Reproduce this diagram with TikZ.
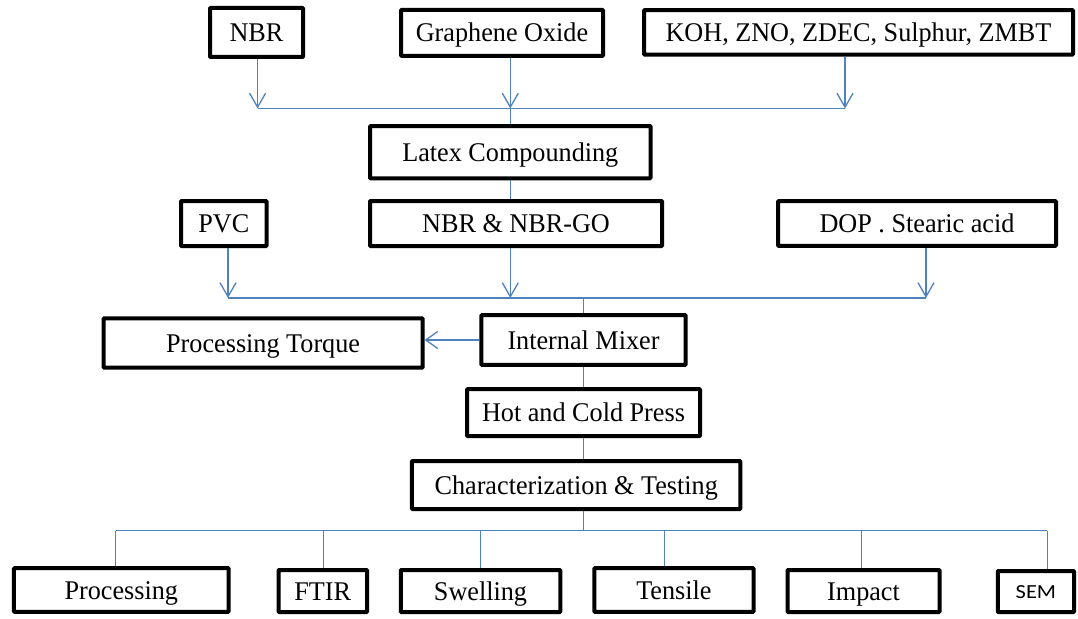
\documentclass[tikz,border=0pt]{standalone}
\usepackage{fontspec}
\setmainfont{Liberation Serif}[FakeStretch=0.97]
\newfontfamily\semfont{Carlito}[FakeStretch=1.12]
\usetikzlibrary{arrows.meta}
\definecolor{lnblue}{RGB}{79,129,189}
\tikzset{
  box/.style={draw=black, line width=4pt, inner sep=0pt, rounded corners=0.8pt,
    font=\fontsize{27}{30}\selectfont, anchor=center, text height=18pt, text depth=0pt},
  ln/.style={draw=lnblue, line width=1.3pt},
  arr/.style={ln, -{Straight Barb[length=14pt,width=16pt,line width=1.3pt]}},
}
\begin{document}
\begin{tikzpicture}[x=1pt,y=-1pt]
\useasboundingbox (0,0) rectangle (1078,618);
% top row
\node[box, minimum width=93, minimum height=49] (nbr) at (256.5,32.5) {NBR};
\node[box, minimum width=202, minimum height=46] (go) at (502,32.8) {Graphene Oxide};
\node[box, minimum width=429, minimum height=44.5] (koh) at (858.5,32.4) {KOH, ZNO, ZDEC, Sulphur, ZMBT};
% second
\node[box, minimum width=280.6, minimum height=52.3] (latex) at (510.3,152.2) {Latex Compounding};
% third row
\node[box, minimum width=85.6, minimum height=45] (pvc) at (223.8,223.5) {PVC};
\node[box, minimum width=292, minimum height=45] (nbrgo) at (516,223.5) {NBR \& NBR-GO};
\node[box, minimum width=278, minimum height=44.7] (dop) at (917,223.4) {DOP . Stearic acid};
% mixer row
\node[box, minimum width=204.3, minimum height=49.7] (mixer) at (583.5,340) {Internal Mixer};
\node[box, minimum width=319, minimum height=49.4] (torque) at (263.1,343) {Processing Torque};
\node[box, minimum width=233, minimum height=47] (press) at (583.5,412.7) {Hot and Cold Press};
\node[box, minimum width=328.5, minimum height=48] (char) at (576.2,485) {Characterization \& Testing};
% bottom row
\node[box, minimum width=214.7, minimum height=43.7] (proc) at (121.3,590) {Processing};
\node[box, minimum width=88.6, minimum height=42] (ftir) at (322.8,591) {FTIR};
\node[box, minimum width=159.5, minimum height=42] (swell) at (480.5,591) {Swelling};
\node[box, minimum width=159.3, minimum height=43.7] (tens) at (673.9,590) {Tensile};
\node[box, minimum width=152, minimum height=42] (imp) at (863.5,591) {Impact};
\node[box, minimum width=76.3, minimum height=41, font=\semfont\fontsize{20}{24}\selectfont, text height=13pt] (sem) at (1035.9,591.5) {SEM};
% bus coordinates
\coordinate (bus1) at (0,108.5);
\coordinate (bus2) at (0,298);
\coordinate (bus3) at (0,530.5);
% top arrows
\draw[arr] ([xshift=1.1]nbr.south) -- ([xshift=1.1]nbr.south |- bus1);
\draw[arr] (go.south -| latex) -- (bus1 -| latex);
\draw[arr] ([xshift=-13.5]koh.south) -- ([xshift=-13.5]koh.south |- bus1);
\draw[ln] ([xshift=1.1]nbr.south |- bus1) -- ([xshift=-13.5]koh.south |- bus1);
\draw[ln] (bus1 -| latex) -- (latex.north);
\draw[ln] (latex.south) -- (nbrgo.north -| latex);
% second group
\draw[arr] ([xshift=4.2]pvc.south) -- ([xshift=4.2]pvc.south |- bus2);
\draw[arr] (nbrgo.south -| latex) -- (bus2 -| latex);
\draw[arr] ([xshift=9]dop.south) -- ([xshift=9]dop.south |- bus2);
\draw[ln] ([xshift=4.2]pvc.south |- bus2) -- ([xshift=9]dop.south |- bus2);
\draw[ln] (bus2 -| mixer) -- (mixer.north);
\draw[ln, -{Straight Barb[length=12pt,width=17pt,line width=1.3pt]}] (mixer.west) -- (torque.east |- mixer.west);
\draw[ln] (mixer.south) -- (press.north);
\draw[ln] (press.south) -- (char.north -| press);
% bottom bus
\draw[ln] (char.south -| press) -- (bus3 -| press);
\draw[ln] ([xshift=-5.6]proc.north |- bus3) -- ([xshift=11.3]sem.north |- bus3);
\draw[ln] ([xshift=-5.6]proc.north |- bus3) -- ([xshift=-5.6]proc.north);
\draw[ln] ([xshift=0.9]ftir.north |- bus3) -- ([xshift=0.9]ftir.north);
\draw[ln] (swell.north |- bus3) -- (swell.north);
\draw[ln] ([xshift=-9.7]tens.north |- bus3) -- ([xshift=-9.7]tens.north);
\draw[ln] ([xshift=-1.9]imp.north |- bus3) -- ([xshift=-1.9]imp.north);
\draw[ln] ([xshift=11.3]sem.north |- bus3) -- ([xshift=11.3]sem.north);
\end{tikzpicture}
\end{document}
